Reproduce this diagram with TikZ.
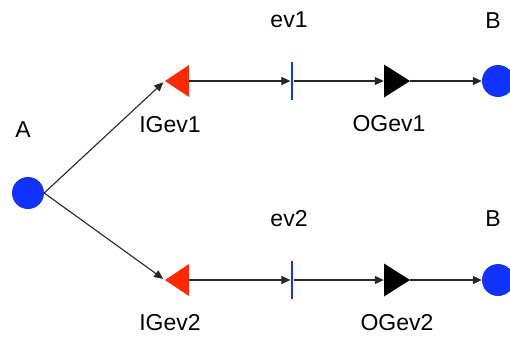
\documentclass[tikz,border=0pt]{standalone}
\usepackage{fontspec}
\setmainfont{Liberation Sans}
\usetikzlibrary{arrows.meta}
\definecolor{pblue}{RGB}{18,50,255}
\definecolor{pred}{RGB}{255,40,0}
\begin{document}
\begin{tikzpicture}[x=1pt,y=-1pt,
  place/.style={circle,fill=pblue,minimum size=32pt,inner sep=0pt},
  itri/.style={minimum width=24pt,minimum height=32pt,inner sep=0pt,
    path picture={\fill[pred] (path picture bounding box.west) -- (path picture bounding box.north east) -- (path picture bounding box.south east) -- cycle;}},
  otri/.style={minimum width=26pt,minimum height=33pt,inner sep=0pt,
    path picture={\fill[black] (path picture bounding box.east) -- (path picture bounding box.north west) -- (path picture bounding box.south west) -- cycle;}},
  evbar/.style={fill=pblue,minimum width=2.8pt,minimum height=38pt,inner sep=0pt},
  lbl/.style={font=\fontsize{23}{26}\selectfont,inner sep=0pt},
  conn/.style={draw=black!85,line width=1.1pt,-{Triangle[length=9pt,width=8pt]}}]
\useasboundingbox (0,0) rectangle (510,340);
% places
\node[place] (A) at (28,193) {};
\node[place] (B1) at (498,81) {};
\node[place] (B2) at (498,280) {};
% transitions
\node[itri] (ig1) at (177,81) {};
\node[itri] (ig2) at (177,280) {};
\node[evbar] (ev1) at (292,81) {};
\node[evbar] (ev2) at (292,280) {};
\node[otri] (og1) at (397,81) {};
\node[otri] (og2) at (397,280) {};
% labels
\node[lbl] (lA) at (23,130) {A};
\node[lbl] (lig1) at (170,125) {IGev1};
\node[lbl] (lig2) at (170,323) {IGev2};
\node[lbl] (lev1) at (289,20) {ev1};
\node[lbl] (lev2) at (289,219) {ev2};
\node[lbl] (log1) at (389,124) {OGev1};
\node[lbl] (log2) at (397,323) {OGev2};
\node[lbl] (lB1) at (493,21) {B};
\node[lbl] (lB2) at (493,219) {B};
% connectors
\draw[conn,shorten >=2pt] (A.east) -- (ig1.west);
\draw[conn,shorten >=2pt] (A.east) -- (ig2.west);
\draw[conn] (ig1.east) -- (ev1.west);
\draw[conn] (ig2.east) -- (ev2.west);
\draw[conn] (ev1.east) -- (og1.west);
\draw[conn] (ev2.east) -- (og2.west);
\draw[conn] (og1.east) -- (B1.west);
\draw[conn] (og2.east) -- (B2.west);
\end{tikzpicture}
\end{document}
